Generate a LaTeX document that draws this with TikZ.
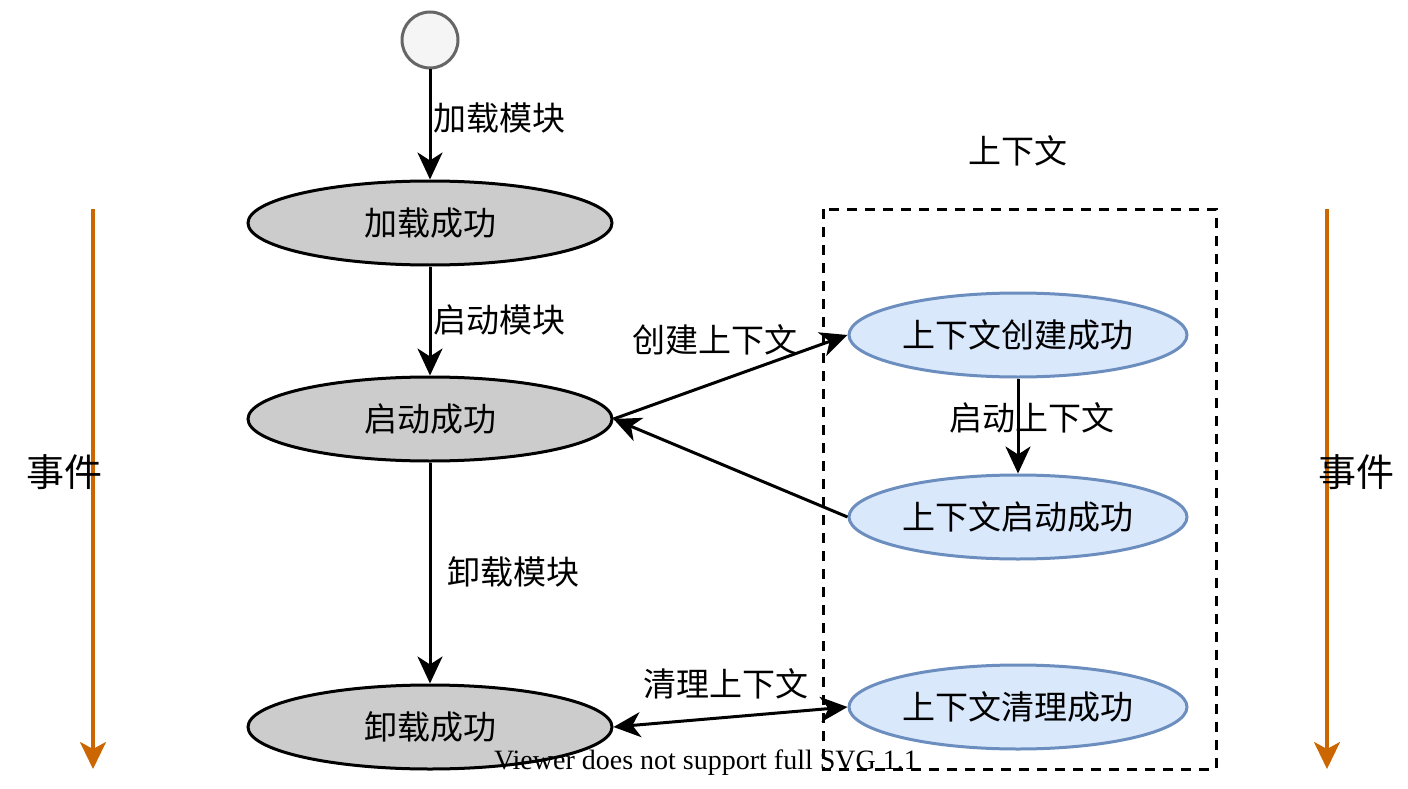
\documentclass[tikz,border=0pt]{standalone}
\usepackage{fontspec}
\setmainfont{Noto Sans CJK SC}
\newfontfamily\viewerfont{Liberation Serif}
\usetikzlibrary{arrows.meta,shapes.geometric}
\definecolor{greyfill}{HTML}{CCCCCC}
\definecolor{startfill}{HTML}{F5F5F5}
\definecolor{startline}{HTML}{666666}
\definecolor{bluefill}{HTML}{DAE8FC}
\definecolor{blueline}{HTML}{6C8EBF}
\definecolor{evorange}{HTML}{CC6600}
\tikzset{
  modstate/.style={ellipse, draw=black, line width=3pt, fill=greyfill, minimum width=364pt, minimum height=84pt, inner sep=0pt, font=\fontsize{33}{40}\selectfont},
  ctxstate/.style={ellipse, draw=blueline, line width=3pt, fill=bluefill, minimum width=338pt, minimum height=84pt, inner sep=0pt, font=\fontsize{33}{40}\selectfont},
  lbl/.style={inner sep=0pt, font=\fontsize{33}{40}\selectfont},
  biglbl/.style={inner sep=0pt, font=\fontsize{38}{44}\selectfont},
  flow/.style={line width=3pt, draw=black, -{Stealth[length=27pt,width=25pt,inset=8pt]}},
  bothflow/.style={line width=3pt, draw=black, {Stealth[length=27pt,width=25pt,inset=8pt]}-{Stealth[length=27pt,width=25pt,inset=8pt]}},
  evarrow/.style={line width=3.2pt, draw=evorange, -{Stealth[length=27pt,width=26pt,inset=7pt]}},
}
\begin{document}
\begin{tikzpicture}[x=1pt,y=-1pt]
\useasboundingbox[fill=white] (0,0) rectangle (1408,789);

% group box
\draw[line width=3pt, dash pattern=on 10pt off 8pt] (823,209) rectangle (1216,769);
\node[lbl] (ctxtitle) at (1018,151) {上下文};

% start
\node[circle, draw=startline, fill=startfill, line width=3pt, minimum size=56pt, inner sep=0pt] (init) at (430,40) {};

% module states
\node[modstate] (loaded) at (430,223) {加载成功};
\node[modstate] (started) at (430,419) {启动成功};
\node[modstate] (unloaded) at (430,727) {卸载成功};

% context states
\node[ctxstate] (ctxcreated) at (1018,335) {上下文创建成功};
\node[ctxstate] (ctxstarted) at (1018,517) {上下文启动成功};
\node[ctxstate] (ctxcleaned) at (1018,707) {上下文清理成功};

% connectors
\draw[flow] (init) -- (loaded);
\node[lbl] (l1) at (499,118) {加载模块};
\draw[flow] (loaded) -- (started);
\node[lbl] (l2) at (499,320) {启动模块};
\draw[flow] (started) -- (unloaded);
\node[lbl] (l3) at (513,572) {卸载模块};

\draw[flow] (started.east) -- (ctxcreated.west);
\node[lbl] (l4) at (715,340) {创建上下文};
\draw[flow] (ctxcreated) -- (ctxstarted);
\node[lbl] (l5) at (1032,418) {启动上下文};
\draw[flow] (ctxstarted.west) -- (started.east);
\draw[bothflow] (unloaded.east) -- (ctxcleaned.west);
\node[lbl] (l6) at (726,684) {清理上下文};

% event arrows
\coordinate (evLtop) at (93,209);
\coordinate (evLbot) at (93,769);
\coordinate (evRtop) at (1327,209);
\coordinate (evRbot) at (1327,769);
\draw[evarrow] (evLtop) -- (evLbot);
\draw[evarrow] (evRtop) -- (evRbot);
\node[biglbl] (evL) at (64,472) {事件};
\node[biglbl] (evR) at (1356,472) {事件};

\node[inner sep=0pt, font=\viewerfont\fontsize{28}{32}\selectfont] (viewer) at (706,763) {Viewer does not support full SVG 1.1};
\end{tikzpicture}
\end{document}
